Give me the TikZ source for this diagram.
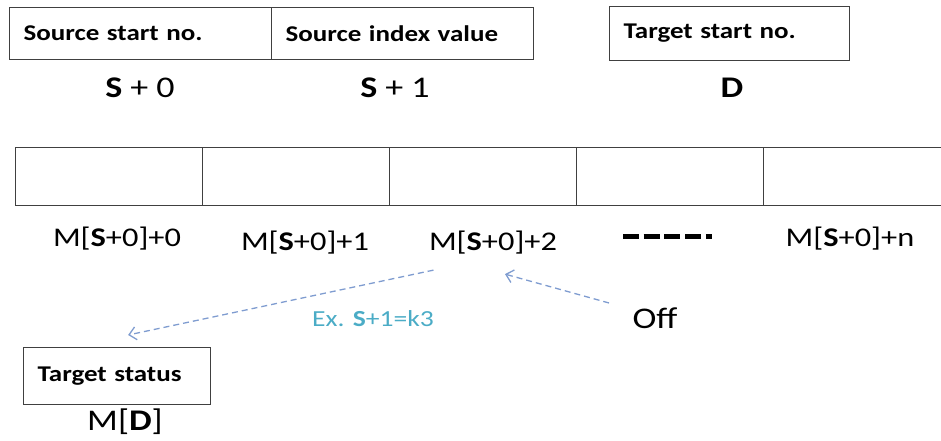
\documentclass[tikz,border=0pt]{standalone}
\usepackage{fontspec}
\setmainfont{Carlito}[FakeStretch=1.2]
\usetikzlibrary{arrows.meta, positioning, calc}
\definecolor{framegray}{HTML}{404040}
\definecolor{flowblue}{HTML}{7F9CD0}
\definecolor{exaqua}{HTML}{4BACC6}
\tikzset{
	headbox/.style={draw=framegray, line width=1.2pt, minimum height=52pt, text width=#1, align=left, inner xsep=14pt, anchor=north west, font=\fontsize{22.5}{26}\selectfont\bfseries},
	cellbox/.style={draw=framegray, line width=1.2pt, minimum height=58pt, minimum width=187pt, anchor=north west, inner sep=0pt},
	addr/.style={font=\fontsize{27}{32}\selectfont},
	reglbl/.style={font=\fontsize{30}{36}\selectfont},
	flowarr/.style={flowblue, line width=1.3pt, dash pattern=on 6pt off 4pt, -{Straight Barb[length=7pt, width=13pt]}},
}
\begin{document}
\begin{tikzpicture}[x=1pt, y=-1pt]
	\clip (0,0) rectangle (941,441);
	\node[headbox=234pt] (srcstart) at (9,7) {Source start no.};
	\node[headbox=234pt] (srcindex) at (271,7) {Source index value};
	\node[headbox=212pt, minimum height=54pt] (tgtstart) at (609,6) {Target start no.};
	\node[reglbl] (s0) at (140,88) {\textbf{S} + 0};
	\node[reglbl] (s1) at (395,88) {\textbf{S} + 1};
	\node[reglbl] (d) at (732,88) {\textbf{D}};
	\foreach \i in {0,...,4}
		\node[cellbox] (cell\i) at (15+187*\i,147) {};
	\node[addr] (m0) at (117,239) {M[\textbf{S}+0]+0};
	\node[addr] (m1) at (305,243) {M[\textbf{S}+0]+1};
	\node[addr] (m2) at (493,243) {M[\textbf{S}+0]+2};
	\node[addr] (mn) at (850,239) {M[\textbf{S}+0]+n};
	\draw[line width=5pt, dash pattern=on 16pt off 4.7pt] (623,236) -- (712,236);
	\node[headbox=159pt, minimum height=57pt] (tgtstatus) at (23,347) {Target status};
	\node[reglbl] (md) at (125,422) {M[\textbf{D}]};
	\node[reglbl] (off) at (655,318) {Off};
	\node[font=\fontsize{23}{27}\selectfont, text=exaqua] (ex) at (373,319) {Ex. \textbf{S}+1=k3};
	\draw[flowarr] ($(m2.south west)+(8,12)$) -- ($(tgtstatus.north)+(11,-12)$);
	\draw[flowarr] ($(off.west)+(-20,-15)$) -- ($(m2.south)+(12,16)$);
\end{tikzpicture}
\end{document}
